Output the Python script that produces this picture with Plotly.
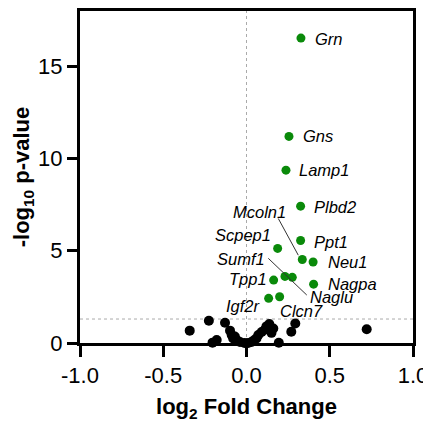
import plotly.graph_objects as go

# ---- data ----
sig_genes = ["Grn", "Gns", "Lamp1", "Plbd2", "Ppt1", "Scpep1", "Mcoln1", "Neu1",
             "Sumf1", "Naglu", "Tpp1", "Nagpa", "Igf2r", "Clcn7"]
sig_fc = [0.327, 0.255, 0.237, 0.325, 0.325, 0.187, 0.335, 0.400,
          0.231, 0.275, 0.163, 0.403, 0.133, 0.199]
sig_p = [16.53, 11.2, 9.37, 7.42, 5.56, 5.13, 4.53, 4.39,
         3.61, 3.56, 3.41, 3.19, 2.42, 2.51]

ns_fc = [-0.341, -0.226, -0.129, -0.204, -0.179, -0.099, -0.089, -0.080, -0.059,
         -0.039, -0.012, 0.010, 0.030, 0.060, 0.071, 0.091, 0.111, 0.137, 0.161,
         0.194, 0.269, 0.293, 0.722, -0.070, 0.045, 0.120, 0.150]
ns_p = [0.67, 1.21, 1.10, 0.02, 0.16, 0.67, 0.43, 0.25, 0.16,
        0.05, 0.0, 0.0, 0.05, 0.25, 0.43, 0.60, 0.73, 1.03, 0.79,
        0.01, 0.61, 1.06, 0.75, 0.35, 0.15, 0.90, 0.55]

x_ticks = [-1.0, -0.5, 0.0, 0.5, 1.0]
x_tick_labels = ["-1.0", "-0.5", "0.0", "0.5", "1.0"]
y_ticks = [0, 5, 10, 15]
p_threshold = 1.3

# ---- label placement (layout only) ----
label_pos = {
    "Grn": (0.401, 16.5, "left"),
    "Gns": (0.327, 11.2, "left"),
    "Lamp1": (0.303, 9.37, "left"),
    "Plbd2": (0.392, 7.38, "left"),
    "Ppt1": (0.392, 5.47, "left"),
    "Neu1": (0.476, 4.37, "left"),
    "Nagpa": (0.476, 3.18, "left"),
    "Naglu": (0.371, 2.47, "left"),
    "Clcn7": (0.191, 1.73, "left"),
    "Igf2r": (0.101, 2.0, "right"),
    "Tpp1": (0.135, 3.47, "right"),
    "Sumf1": (0.125, 4.55, "right"),
    "Scpep1": (0.161, 5.88, "right"),
    "Mcoln1": (0.247, 7.11, "right"),
}
leader_lines = [((0.191, 6.75), (0.311, 4.76)), ((0.131, 4.59), (0.362, 2.60))]

FONT = "Liberation Sans, Arial, sans-serif"

fig = go.Figure()
fig.add_trace(go.Scatter(x=ns_fc, y=ns_p, mode="markers",
                         marker=dict(color="black", size=10), cliponaxis=False,
                         showlegend=False))
fig.add_trace(go.Scatter(x=sig_fc, y=sig_p, mode="markers",
                         marker=dict(color="#0a8a0a", size=9), cliponaxis=False,
                         showlegend=False))

for g in sig_genes:
    lx, ly, anc = label_pos[g]
    fig.add_annotation(x=lx, y=ly, text="<i>%s</i>" % g, showarrow=False,
                       xanchor=anc, yanchor="middle",
                       font=dict(family=FONT, size=16.5, color="black"))

for (x0, y0), (x1, y1) in leader_lines:
    fig.add_shape(type="line", x0=x0, y0=y0, x1=x1, y1=y1,
                  line=dict(color="#333", width=1))

fig.add_shape(type="line", x0=-1, x1=1, y0=p_threshold, y1=p_threshold,
              line=dict(color="#aaaaaa", width=1, dash="dot"), layer="below")
fig.add_shape(type="line", x0=0, x1=0, y0=0, y1=18,
              line=dict(color="#aaaaaa", width=1, dash="dot"), layer="below")

# page body has an 8px margin, so the figure is sized/offset to compensate
fig.update_layout(
    width=423, height=414,
    margin=dict(l=72, r=18, t=3, b=79),
    paper_bgcolor="white", plot_bgcolor="white",
    font=dict(family=FONT, color="black"),
    xaxis=dict(range=[-1, 1], tickvals=x_ticks, ticktext=x_tick_labels,
               automargin=False,
               showgrid=False, zeroline=False, showline=True, linewidth=3,
               linecolor="black", mirror=True, ticks="outside", ticklen=11,
               tickwidth=3, tickcolor="black", tickfont=dict(size=22),
               title=dict(text="<b>log<sub>2</sub> Fold Change</b>",
                          font=dict(size=22), standoff=12)),
    yaxis=dict(range=[0, 18], tickvals=y_ticks, showgrid=False, zeroline=False,
               automargin=False,
               showline=True, linewidth=3, linecolor="black", mirror=True,
               ticks="outside", ticklen=10, tickwidth=3, tickcolor="black",
               tickfont=dict(size=22),
               title=dict(text="<b>-log<sub>10</sub> p-value</b>",
                          font=dict(size=22), standoff=3)),
)

fig.write_html("out.html")
